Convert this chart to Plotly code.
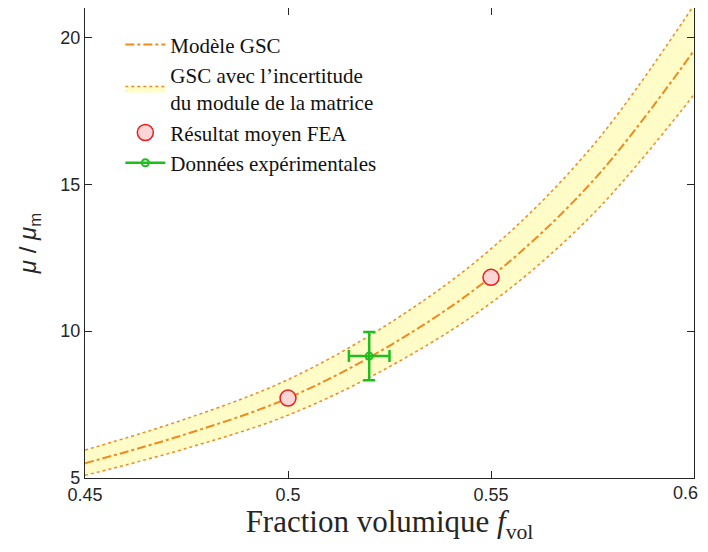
import plotly.graph_objects as go

# values
frac = [0.45, 0.475, 0.5, 0.525, 0.55, 0.575, 0.6]
gsc_model = [5.5, 6.5, 7.72, 9.5, 11.85, 15.1, 19.55]
gsc_upper = [5.95, 7.02, 8.35, 10.27, 12.8, 16.3, 21.1]
gsc_lower = [5.09, 6.01, 7.14, 8.79, 10.96, 13.97, 18.05]

fea_frac = [0.5, 0.55]
fea_mean = [7.72, 11.83]

exp_frac = [0.52]
exp_mean = [9.15]
exp_err_y = [0.82]
exp_err_x = [0.005]

x_ticks = [0.45, 0.5, 0.55, 0.6]
x_ticktext = ['0.45', '0.5', '0.55', '0.6']
y_ticks = [5, 10, 15, 20]

ORANGE = '#EE8A1E'
SERIF = 'Liberation Serif, Times New Roman, serif'
SANS = 'Liberation Sans, Arial, sans-serif'
TICK_FONT = dict(family=SANS, size=18, color='#262626')

fig = go.Figure()

fig.add_trace(go.Scatter(
	x=frac, y=gsc_lower, mode='lines', line=dict(color=ORANGE, width=1.5, dash='dot', shape='spline'),
	showlegend=False, hoverinfo='skip'
))
fig.add_trace(go.Scatter(
	x=frac, y=gsc_upper, mode='lines', fill='tonexty', fillcolor='#FFFCC8',
	line=dict(color=ORANGE, width=1.5, dash='dot', shape='spline'),
	name="GSC avec l’incertitude<br>du module de la matrice", legendrank=2
))
fig.add_trace(go.Scatter(
	x=frac, y=gsc_model, mode='lines', line=dict(color=ORANGE, width=2, dash='dashdot', shape='spline'),
	name='Modèle GSC', legendrank=1
))
fig.add_trace(go.Scatter(
	x=fea_frac, y=fea_mean, mode='markers',
	marker=dict(size=16, color='#FAD6D6', line=dict(color='#F01818', width=1.5)),
	name='Résultat moyen FEA', legendrank=3
))
fig.add_trace(go.Scatter(
	x=exp_frac, y=exp_mean, mode='lines+markers',
	line=dict(color='#1DBE1D', width=2.5),
	marker=dict(size=7, color='rgba(0,0,0,0)', line=dict(color='#1DBE1D', width=2)),
	error_y=dict(type='data', array=exp_err_y, color='#1DBE1D', thickness=2.5, width=6),
	error_x=dict(type='data', array=exp_err_x, color='#1DBE1D', thickness=2.5, width=6),
	name='Données expérimentales', legendrank=4
))

axis_common = dict(
	showline=True, linecolor='#262626', linewidth=1.2, mirror='ticks',
	ticks='inside', ticklen=7, tickcolor='#262626', showgrid=False, zeroline=False,
	automargin=False, tickfont=TICK_FONT
)

# last x label would be clipped at the window edge, so it is drawn as an annotation instead
fig.update_xaxes(
	range=[0.45, 0.6], tickvals=x_ticks, ticktext=x_ticktext[:-1] + [''],
	title=dict(text='Fraction volumique <i>f</i><sub>vol</sub>', font=dict(family=SERIF, size=31, color='#262626'), standoff=6),
	**axis_common
)
fig.add_annotation(
	x=x_ticks[-1], y=0, xref='x', yref='paper', text=x_ticktext[-1], showarrow=False,
	xanchor='right', yanchor='top', xshift=6, yshift=-3, font=TICK_FONT
)
fig.update_yaxes(
	range=[5, 21], tickvals=y_ticks,
	title=dict(text='<i>μ</i> / <i>μ</i><sub>m</sub>', font=dict(family=SANS, size=24, color='#262626'), standoff=16),
	**axis_common
)

# page body adds an 8px margin, so the figure is sized to line up with the window
fig.update_layout(
	width=700, height=536,
	margin=dict(l=77, r=14, t=0, b=66),
	plot_bgcolor='white', paper_bgcolor='white',
	legend=dict(
		x=0.058, y=0.965, xanchor='left', yanchor='top', traceorder='normal',
		bgcolor='rgba(0,0,0,0)', font=dict(family=SERIF, size=21, color='#111111'),
		itemwidth=40, tracegroupgap=4
	)
)

fig.write_html('out.html')
